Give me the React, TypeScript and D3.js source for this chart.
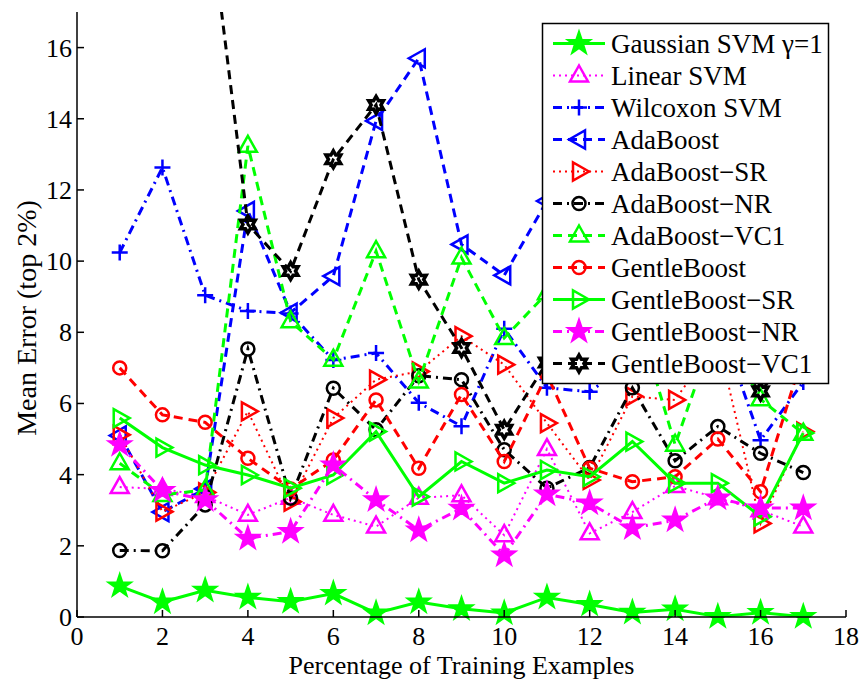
import React from "react";
import * as d3 from "d3";

// percentage of training examples
const xValues = [1, 2, 3, 4, 5, 6, 7, 8, 9, 10, 11, 12, 13, 14, 15, 16, 17];

const gaussianSvm = [0.87, 0.42, 0.75, 0.55, 0.43, 0.66, 0.11, 0.42, 0.23, 0.11, 0.55, 0.35, 0.13, 0.22, 0.01, 0.12, 0.01];
const linearSvm = [3.65, 3.6, 3.4, 2.87, 3.35, 2.87, 2.54, 3.35, 3.42, 2.3, 4.72, 2.35, 2.95, 3.68, 3.34, 3.0, 2.54];
const wilcoxonSvm = [10.24, 12.63, 9.04, 8.6, 8.53, 7.22, 7.42, 6.02, 5.36, 8.1, 6.44, 6.33, 7.2, 7.8, 8.4, 4.97, 6.6];
const adaBoost = [5.1, 2.95, 3.6, 11.41, 8.55, 9.58, 13.94, 15.7, 10.47, 9.6, 11.69, 9.0, 10.2, 8.6, 9.4, 7.6, 8.2];
const adaBoostSR = [5.12, 2.96, 3.5, 5.78, 3.24, 5.59, 6.67, 6.9, 7.89, 7.09, 5.45, 3.85, 6.2, 6.1, 7.8, 2.63, 5.21];
const adaBoostNR = [1.87, 1.86, 3.15, 7.53, 3.34, 6.43, 5.26, 6.78, 6.67, 4.7, 3.62, 4.2, 6.44, 4.39, 5.35, 4.6, 4.06];
const adaBoostVC1 = [4.32, 3.43, 3.57, 13.24, 8.31, 7.23, 10.28, 6.62, 10.1, 7.84, 9.1, 9.6, 8.9, 4.84, 8.3, 6.12, 5.15];
const gentleBoost = [7.0, 5.68, 5.47, 4.46, 3.6, 4.41, 6.1, 4.18, 6.25, 4.37, 6.81, 4.18, 3.8, 3.94, 5.0, 3.52, 7.4];
const gentleBoostSR = [5.59, 4.76, 4.27, 3.99, 3.62, 3.99, 5.21, 3.38, 4.37, 3.76, 4.13, 3.94, 4.93, 3.76, 3.76, 2.82, 5.17];
const gentleBoostNR = [4.84, 3.55, 3.29, 2.21, 2.4, 4.27, 3.29, 2.44, 3.05, 1.74, 3.45, 3.2, 2.5, 2.72, 3.34, 3.06, 3.06];
const gentleBoostVC1 = [28, 24, 20.7, 11.03, 9.72, 12.86, 14.39, 9.48, 7.56, 5.26, 7.15, 8.6, 9.2, 8.3, 7.6, 6.34, 7.8];

const xTicks = [0, 2, 4, 6, 8, 10, 12, 14, 16, 18];
const yTicks = [0, 2, 4, 6, 8, 10, 12, 14, 16];

const dashed = "9,6";
const dotted = "2,4";
const dashDot = "9,5,2,5";

const series = [
  { name: "Gaussian SVM \u03b3=1", values: gaussianSvm, color: "#00ff00", dash: null, marker: "pentagram", fill: true },
  { name: "Linear SVM", values: linearSvm, color: "#ff00ff", dash: dotted, marker: "triUp", fill: false },
  { name: "Wilcoxon SVM", values: wilcoxonSvm, color: "#0000ff", dash: dashDot, marker: "plus", fill: false },
  { name: "AdaBoost", values: adaBoost, color: "#0000ff", dash: dashed, marker: "triLeft", fill: false },
  { name: "AdaBoost\u2212SR", values: adaBoostSR, color: "#ff0000", dash: dotted, marker: "triRight", fill: false },
  { name: "AdaBoost\u2212NR", values: adaBoostNR, color: "#000000", dash: dashDot, marker: "circle", fill: false },
  { name: "AdaBoost\u2212VC1", values: adaBoostVC1, color: "#00ff00", dash: dashed, marker: "triUp", fill: false },
  { name: "GentleBoost", values: gentleBoost, color: "#ff0000", dash: dashed, marker: "circle", fill: false },
  { name: "GentleBoost\u2212SR", values: gentleBoostSR, color: "#00ff00", dash: null, marker: "triRight", fill: false },
  { name: "GentleBoost\u2212NR", values: gentleBoostNR, color: "#ff00ff", dash: dashDot, marker: "pentagram", fill: true },
  { name: "GentleBoost\u2212VC1", values: gentleBoostVC1, color: "#000000", dash: dashed, marker: "hexagram", fill: false },
];

const starPath = (points: number, outer: number, inner: number) => {
  const pts: string[] = [];
  for (let i = 0; i < points * 2; i++) {
    const r = i % 2 === 0 ? outer : inner;
    const a = (Math.PI * i) / points - Math.PI / 2;
    pts.push(`${(r * Math.cos(a)).toFixed(2)},${(r * Math.sin(a)).toFixed(2)}`);
  }
  return "M" + pts.join("L") + "Z";
};

const markerPaths: Record<string, string> = {
  triUp: "M0,-10L9,6L-9,6Z",
  triLeft: "M-10,0L6,-9L6,9Z",
  triRight: "M10,0L-6,-9L-6,9Z",
  circle: "M6.5,0A6.5,6.5 0 1,1 -6.5,0A6.5,6.5 0 1,1 6.5,0Z",
  plus: "M-8,0H8M0,-8V8",
  pentagram: starPath(5, 11, 4.3),
  hexagram: starPath(6, 8.5, 4.9),
};

const width = 862;
const height = 679;
const left = 77;
const right = 846;
const top = 12;
const bottom = 617;
const font = "'Liberation Serif', 'Times New Roman', serif";

export default function App() {
  const x = d3.scaleLinear().domain([0, 18]).range([left, right]);
  const y = d3.scaleLinear().domain([0, 17]).range([bottom, top]);

  const line = d3
    .line<number>()
    .x((d, i) => x(xValues[i]))
    .y((d) => y(d));

  const legendX = 542.5;
  const legendY = 23.5;
  const legendW = 286;
  const legendH = 360;
  const rowH = 32;

  const markerStroke = (m: string) => (m === "hexagram" ? 3.5 : 2.5);

  return (
    <svg width={width} height={height} style={{ position: "absolute", left: 0, top: 0, background: "#fff" }}>
      <defs>
        <clipPath id="plot">
          <rect x={left} y={top} width={right - left} height={bottom - top} />
        </clipPath>
      </defs>

      {series.map((s) => (
        <g key={s.name}>
          <path
            d={line(s.values) || ""}
            fill="none"
            stroke={s.color}
            strokeWidth={s.dash === dotted ? 2 : 3}
            strokeDasharray={s.dash || undefined}
            clipPath="url(#plot)"
          />
          {s.values.map((v, i) =>
            v > 17 ? null : (
              <path
                key={i}
                d={markerPaths[s.marker]}
                transform={`translate(${x(xValues[i])},${y(v)})`}
                fill={s.fill ? s.color : "none"}
                stroke={s.color}
                strokeWidth={markerStroke(s.marker)}
              />
            )
          )}
        </g>
      ))}

      {/* axes */}
      <g fontFamily={font} fontSize={26} fill="#000">
        <line x1={left} x2={left} y1={top} y2={bottom} stroke="#000" strokeWidth={1.5} />
        <line x1={left} x2={right} y1={bottom} y2={bottom} stroke="#000" strokeWidth={1.5} />
        {xTicks.map((t) => (
          <g key={"x" + t}>
            <line x1={x(t)} x2={x(t)} y1={bottom} y2={bottom - 7} stroke="#000" strokeWidth={1.5} />
            <text x={x(t)} y={645} textAnchor="middle">
              {t}
            </text>
          </g>
        ))}
        {yTicks.map((t) => (
          <g key={"y" + t}>
            <line x1={left} x2={left + 7} y1={y(t)} y2={y(t)} stroke="#000" strokeWidth={1.5} />
            <text x={72} y={y(t) + 9} textAnchor="end">
              {t}
            </text>
          </g>
        ))}
        <text x={(left + right) / 2} y={674} textAnchor="middle">
          Percentage of Training Examples
        </text>
        <text transform={`translate(36,${318}) rotate(-90)`} textAnchor="middle" fontSize={28}>
          Mean Error (top 2%)
        </text>
      </g>

      {/* legend */}
      <g fontFamily={font} fontSize={27}>
        <rect x={legendX} y={legendY} width={legendW} height={legendH} fill="#fff" stroke="#000" strokeWidth={1.5} />
        {series.map((s, i) => {
          const ry = 43.5 + i * rowH;
          return (
            <g key={"leg" + s.name}>
              <line
                x1={553}
                x2={605}
                y1={ry}
                y2={ry}
                stroke={s.color}
                strokeWidth={s.dash === dotted ? 2 : 3}
                strokeDasharray={s.dash || undefined}
              />
              <path
                d={markerPaths[s.marker]}
                transform={`translate(579,${ry})`}
                fill={s.fill ? s.color : "none"}
                stroke={s.color}
                strokeWidth={markerStroke(s.marker)}
              />
              <text x={611} y={ry + 9} fill="#000">
                {s.name}
              </text>
            </g>
          );
        })}
      </g>
    </svg>
  );
}
